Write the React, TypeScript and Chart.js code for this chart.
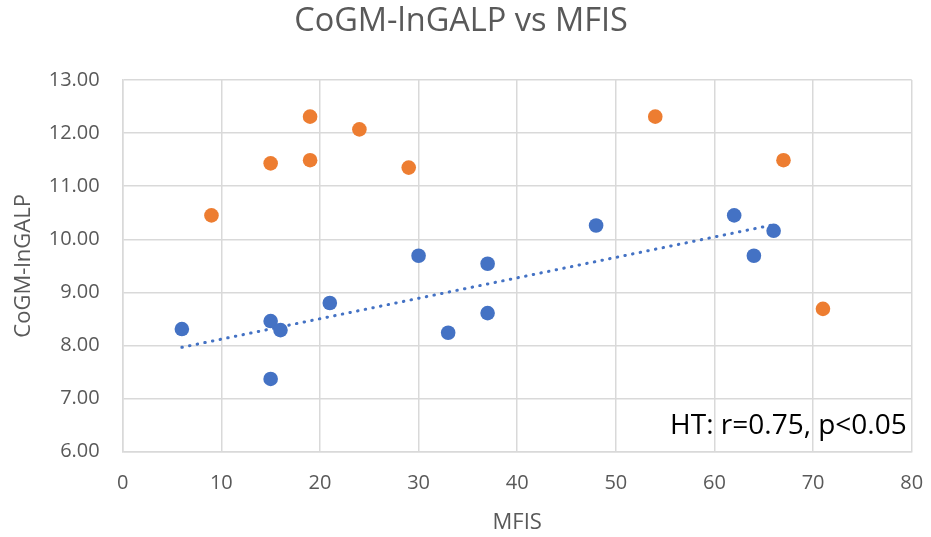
import React, { useEffect, useRef } from "react";
import { Chart, registerables } from "chart.js";

Chart.register(...registerables);

const chartTitle = "CoGM-lnGALP vs MFIS";
const xAxisTitle = "MFIS";
const yAxisTitle = "CoGM-lnGALP";
const annotationText = "HT: r=0.75, p<0.05";

const htX = [6, 15, 16, 15, 21, 30, 33, 37, 37, 48, 62, 64, 66];
const htY = [8.31, 8.46, 8.29, 7.37, 8.8, 9.69, 8.24, 8.61, 9.54, 10.26, 10.45, 9.69, 10.16];
const otherX = [9, 15, 19, 19, 24, 29, 54, 67, 71];
const otherY = [10.45, 11.43, 12.31, 11.49, 12.07, 11.35, 12.31, 11.49, 8.69];

const xMin = 0;
const xMax = 80;
const xStep = 10;
const yMin = 6;
const yMax = 13;
const yStep = 1;

const BLUE = "#4472C4";
const ORANGE = "#ED7D31";
const GRID = "#D9D9D9";
const TEXT = "#595959";
const FONT = "'Open Sans', 'DejaVu Sans', sans-serif";

function regression(xs: number[], ys: number[]) {
  const n = xs.length;
  const mx = xs.reduce((a, b) => a + b, 0) / n;
  const my = ys.reduce((a, b) => a + b, 0) / n;
  let sxy = 0;
  let sxx = 0;
  for (let i = 0; i < n; i++) {
    sxy += (xs[i] - mx) * (ys[i] - my);
    sxx += (xs[i] - mx) * (xs[i] - mx);
  }
  const slope = sxy / sxx;
  return { slope, intercept: my - slope * mx };
}

export default function App() {
  const ref = useRef<HTMLCanvasElement | null>(null);

  useEffect(() => {
    if (!ref.current) return;
    const fit = regression(htX, htY);
    const x0 = Math.min(...htX);
    const x1 = Math.max(...htX);
    const trend = [
      { x: x0, y: fit.intercept + fit.slope * x0 },
      { x: x1, y: fit.intercept + fit.slope * x1 },
    ];

    const annotationPlugin = {
      id: "annotationText",
      afterDraw(chart: any) {
        const ctx = chart.ctx;
        const area = chart.chartArea;
        ctx.save();
        ctx.font = `28px ${FONT}`;
        ctx.fillStyle = "#000000";
        ctx.textAlign = "right";
        ctx.textBaseline = "middle";
        ctx.fillText(annotationText, area.right - 5, chart.scales.y.getPixelForValue(6.48));
        ctx.restore();
      },
    };

    const chart = new Chart(ref.current, {
      type: "scatter",
      data: {
        datasets: [
          {
            label: "HT",
            data: htX.map((x, i) => ({ x, y: htY[i] })),
            backgroundColor: BLUE,
            borderColor: BLUE,
            pointRadius: 7.3,
            pointBorderWidth: 0,
          },
          {
            label: "Other",
            data: otherX.map((x, i) => ({ x, y: otherY[i] })),
            backgroundColor: ORANGE,
            borderColor: ORANGE,
            pointRadius: 7.3,
            pointBorderWidth: 0,
          },
          {
            type: "line",
            label: "Linear (HT)",
            data: trend,
            borderColor: BLUE,
            borderWidth: 3,
            borderDash: [0.5, 7.3],
            borderCapStyle: "round",
            pointRadius: 0,
            fill: false,
            showLine: true,
          } as any,
        ],
      },
      options: {
        animation: false,
        responsive: false,
        layout: { padding: { left: 10.3, right: 19.3, top: 0, bottom: 0 } },
        plugins: {
          legend: { display: false },
          tooltip: { enabled: false },
          title: {
            display: true,
            text: chartTitle,
            color: TEXT,
            font: { family: FONT, size: 32.5, weight: "normal" },
            padding: { top: 2.5, bottom: 38.5 },
          },
        },
        scales: {
          x: {
            type: "linear",
            min: xMin,
            max: xMax,
            ticks: {
              stepSize: xStep,
              color: TEXT,
              font: { family: FONT, size: 20 },
              padding: 20,
            },
            grid: { color: GRID, lineWidth: 1.5, drawTicks: false },
            border: { color: GRID, width: 1.5 },
            title: {
              display: true,
              text: xAxisTitle,
              color: TEXT,
              font: { family: FONT, size: 22 },
              padding: { top: 0, bottom: 1 },
            },
            afterFit(scale: any) {
              scale.height = 85.3;
              scale.paddingLeft = 0;
              scale.paddingRight = 0;
            },
          },
          y: {
            type: "linear",
            min: yMin,
            max: yMax,
            ticks: {
              stepSize: yStep,
              color: TEXT,
              font: { family: FONT, size: 20 },
              padding: 23,
              callback: (v: any) => Number(v).toFixed(2),
            },
            grid: { color: GRID, lineWidth: 1.5, drawTicks: false },
            border: { color: GRID, width: 1.5 },
            title: {
              display: true,
              text: yAxisTitle,
              color: TEXT,
              font: { family: FONT, size: 22 },
              padding: { top: 0.7, bottom: 0 },
            },
            afterFit(scale: any) {
              scale.width = 112.4;
            },
          },
        },
      },
      plugins: [annotationPlugin],
    });
    return () => chart.destroy();
  }, []);

  return (
    <div style={{ position: "fixed", left: 0, top: 0, width: 931, height: 537, background: "#ffffff" }}>
      <canvas ref={ref} width={931} height={537} />
    </div>
  );
}
